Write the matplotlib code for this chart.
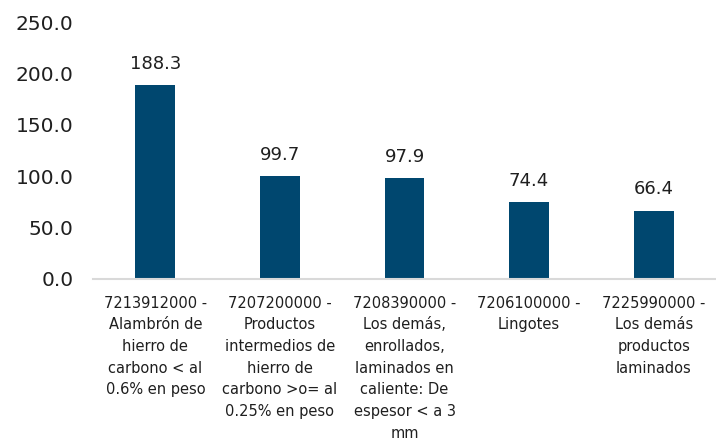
import numpy as np
import matplotlib
matplotlib.use("Agg")
import matplotlib.pyplot as plt

# Data
categories = [
    "7213912000 -\nAlambrón de\nhierro de\ncarbono < al\n0.6% en peso",
    "7207200000 -\nProductos\nintermedios de\nhierro de\ncarbono >o= al\n0.25% en peso",
    "7208390000 -\nLos demás,\nenrollados,\nlaminados en\ncaliente: De\nespesor < a 3\nmm",
    "7206100000 -\nLingotes",
    "7225990000 -\nLos demás\nproductos\nlaminados",
]
values = [188.3, 99.7, 97.9, 74.4, 66.4]
y_ticks = [0, 50, 100, 150, 200, 250]

bar_color = "#00476F"
text_color = "#1f1f1f"

fig = plt.figure(figsize=(7.16, 4.42), dpi=100)
ax = fig.add_axes([0.13, 0.369, 0.87, 0.581])

x = np.arange(len(categories))
bars = ax.bar(x, values, width=0.32, color=bar_color, zorder=2)

for rect, v in zip(bars, values):
    ax.annotate(f"{v:.1f}", (rect.get_x() + rect.get_width() / 2, v),
                xytext=(0, 9), textcoords="offset points",
                ha="center", va="bottom", fontsize=13, color=text_color)

ax.set_xlim(-0.5, len(categories) - 0.5)
ax.set_ylim(0, 250)
ax.set_yticks(y_ticks)
ax.set_yticklabels([f"{t:.1f}" for t in y_ticks], fontsize=14.5, color=text_color)
ax.set_xticks(x)
ax.set_xticklabels(categories, fontsize=10.5, color=text_color,
                   linespacing=1.56, va="top")

for side in ["top", "right", "left"]:
    ax.spines[side].set_visible(False)
ax.spines["bottom"].set_color("#D9D9D9")
ax.spines["bottom"].set_linewidth(1.5)
ax.tick_params(axis="both", length=0)
ax.tick_params(axis="x", pad=12)
ax.tick_params(axis="y", pad=14)

fig.savefig("out.png", dpi=100)
